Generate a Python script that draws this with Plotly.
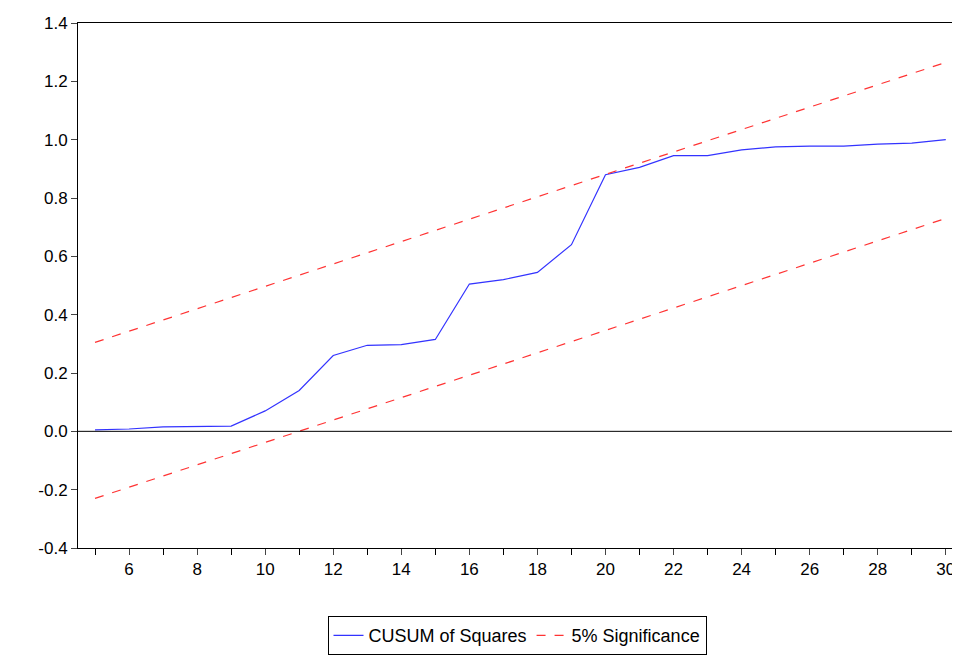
import plotly.graph_objects as go

t = list(range(5, 31))
cusum = [0.005, 0.008, 0.015, 0.016, 0.018, 0.07, 0.14, 0.26, 0.295, 0.297, 0.315,
         0.505, 0.52, 0.545, 0.64, 0.88, 0.905, 0.945, 0.945, 0.965, 0.975, 0.978,
         0.978, 0.985, 0.988, 1.0]
bound_t = [5, 30]
upper = [0.305, 1.265]
lower = [-0.23, 0.73]
y_ticks = [-0.4, -0.2, 0.0, 0.2, 0.4, 0.6, 0.8, 1.0, 1.2, 1.4]
y_labels = ["-0.4", "-0.2", "0.0", "0.2", "0.4", "0.6", "0.8", "1.0", "1.2", "1.4"]

fig = go.Figure()
fig.add_trace(go.Scatter(x=t, y=cusum, mode="lines", name="CUSUM of Squares",
                         line=dict(color="#3333ff", width=1.2)))
fig.add_trace(go.Scatter(x=bound_t, y=upper, mode="lines", name="5% Significance",
                         line=dict(color="#ff3333", width=1.2, dash="dash")))
fig.add_trace(go.Scatter(x=bound_t, y=lower, mode="lines", showlegend=False,
                         line=dict(color="#ff3333", width=1.2, dash="dash")))
fig.add_hline(y=0, line=dict(color="black", width=1))

fig.update_layout(
    width=960, height=655, margin=dict(l=70, r=12, t=15, b=115, autoexpand=False),
    plot_bgcolor="white", paper_bgcolor="white",
    font=dict(family="Liberation Sans, Arial", size=17, color="black"),
    legend=dict(orientation="h", x=0.5, xanchor="center", y=-0.13, yanchor="top",
                bordercolor="black", borderwidth=1, font=dict(size=18)),
)
fig.update_xaxes(range=[4.5, 30.3], tickvals=list(range(6, 31, 2)), ticks="outside",
                 ticklen=6, showline=True, linecolor="black", mirror=True, showgrid=False,
                 zeroline=False, automargin=False,
                 minor=dict(tickvals=list(range(5, 31, 2)), ticks="outside", ticklen=6,
                            tickcolor="black"))
fig.update_yaxes(range=[-0.4, 1.4], tickvals=y_ticks, ticktext=y_labels, ticks="outside",
                 ticklen=6, showline=True, linecolor="black", mirror=True, showgrid=False,
                 zeroline=False, automargin=False)
fig.write_html("out.html")
